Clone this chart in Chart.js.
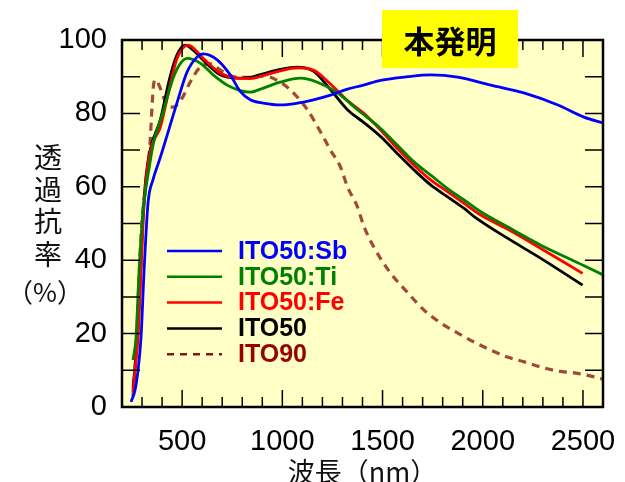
<!DOCTYPE html>
<html>
<head>
<meta charset="utf-8">
<script src="https://cdn.jsdelivr.net/npm/chart.js@4"></script>
<style>
  html, body { margin: 0; padding: 0; background: #fff; }
  #wrap { width: 625px; height: 482px; }
</style>
</head>
<body>
<div id="wrap"><canvas id="spectra" width="625" height="482"></canvas></div>
<script>
// ===================== Data ===================

const seriesLabels = ['ITO50:Sb', 'ITO50:Ti', 'ITO50:Fe', 'ITO50', 'ITO90'];

const wlSb = [245, 265, 280, 295, 310, 330, 355, 390, 425, 475, 525, 575, 605, 675, 740, 790, 840, 905, 990, 1075, 1155, 1240, 1325, 1405, 1490, 1625, 1740, 1875, 2040, 2205, 2375, 2505, 2600];
const tSb = [1.4, 4.6, 10, 19, 37, 55.6, 62, 67.8, 74, 83, 91.3, 95.4, 96.2, 94.6, 90.5, 86, 83.7, 82.8, 82.3, 82.8, 83.7, 85, 86.6, 87.7, 89, 90, 90.5, 89.9, 87.7, 85.6, 82.3, 79, 77.4];

const wlTi = [255, 270, 285, 300, 320, 335, 355, 405, 455, 490, 525, 590, 655, 725, 790, 840, 905, 990, 1090, 1175, 1275, 1375, 1490, 1573, 1657, 1740, 1823, 1907, 1990, 2123, 2290, 2498, 2600];
const tTi = [12.8, 19, 37, 50, 60, 65, 71.4, 80.4, 89.6, 93.5, 95, 93.7, 90.5, 87.7, 86.2, 85.8, 86.9, 88.5, 89.6, 88.5, 85.6, 81, 75.9, 71.4, 66.8, 63.2, 59.6, 56.4, 53.2, 49.1, 44.1, 38.7, 36];

const wlFe = [255, 265, 280, 295, 305, 320, 350, 390, 440, 475, 530, 605, 690, 775, 840, 905, 990, 1075, 1155, 1240, 1325, 1407, 1490, 1573, 1657, 1740, 1823, 1907, 1990, 2123, 2290, 2498];
const tFe = [4, 10, 19, 37, 50, 62, 71.4, 76, 87.7, 95, 98.6, 95, 91, 89.6, 89.5, 90.3, 91.6, 92.4, 91.8, 88, 83.5, 80, 75.5, 70.5, 65.9, 61.9, 58.7, 55.5, 52.3, 48.5, 43.2, 36.4];

const wl50 = [255, 265, 280, 295, 305, 320, 345, 390, 440, 475, 515, 560, 605, 690, 775, 840, 905, 990, 1075, 1155, 1240, 1325, 1407, 1490, 1573, 1657, 1740, 1823, 1907, 1957, 2123, 2290, 2498];
const t50 = [5, 11, 22, 40, 52, 63, 71, 78, 90, 96, 98.6, 97, 94.5, 90.5, 89.6, 89.8, 90.8, 92, 92.6, 91.5, 86.5, 81, 77.5, 73.7, 69.1, 64.6, 60.5, 57.3, 54.1, 51.9, 46, 40.5, 33.2];

const wl90 = [255, 270, 285, 300, 325, 340, 350, 358, 368, 390, 425, 455, 500, 540, 590, 640, 700, 780, 860, 905, 990, 1055, 1125, 1190, 1240, 1290, 1325, 1375, 1405, 1457, 1540, 1623, 1707, 1790, 1873, 1957, 2040, 2123, 2207, 2290, 2373, 2457, 2557, 2600];
const t90 = [3, 15, 35, 51, 63, 72, 82, 88, 89.2, 87, 82.3, 81.7, 84.2, 88.5, 92.6, 93.5, 91.5, 89.8, 89.8, 90.3, 88.5, 85.6, 81, 75, 70, 65.4, 60, 54.5, 49.5, 43.5, 36.5, 31.3, 26.4, 22.9, 20.2, 17.7, 15.5, 13.6, 12.3, 10.9, 9.8, 9.3, 8.2, 7.6];

const xTickStep = 100;   // nm
const xLabelStep = 500;
const yTickStep = 10;    // %
const yLabelStep = 20;

// ===================== Styles ===================

const lineColors = ['#0000ff', '#008000', '#ff0000', '#000000', '#a0483c'];
const legendTextColors = ['#0000ff', '#008000', '#ff0000', '#000000', '#990000'];
const legendLineColors = ['#0000ff', '#008000', '#ff0000', '#000000', '#7f1a1a'];

function toPoints(xs, ys) {
  return xs.map((x, i) => ({ x: x, y: ys[i] }));
}

function createDataset(label, data, color, dashed) {
  return {
    label: label,
    data: data,
    borderColor: color,
    backgroundColor: color,
    borderWidth: dashed ? 3.2 : 2.8,
    borderDash: dashed ? [8, 6] : [],
    pointRadius: 0,
    fill: false,
    cubicInterpolationMode: 'monotone'
  };
}

// ===================== Frame, ticks, legend, labels ===================

const decorations = {
  id: 'decorations',
  beforeDatasetsDraw(chart) {
    const { ctx, chartArea: a } = chart;
    ctx.save();
    ctx.fillStyle = '#ffffc6';
    ctx.fillRect(a.left, a.top, a.right - a.left, a.bottom - a.top);
    ctx.restore();
  },
  afterDatasetsDraw(chart) {
    const { ctx, chartArea: a, scales } = chart;
    const x = scales.x, y = scales.y;
    ctx.save();

    // inward ticks on all four sides
    ctx.strokeStyle = '#000';
    ctx.lineWidth = 1.5;
    ctx.beginPath();
    x.ticks.forEach(t => {
      const px = x.getPixelForValue(t.value);
      const len = t.value % xLabelStep === 0 ? 17 : 10;
      ctx.moveTo(px, a.bottom); ctx.lineTo(px, a.bottom - len);
      ctx.moveTo(px, a.top); ctx.lineTo(px, a.top + len);
    });
    y.ticks.forEach(t => {
      const py = y.getPixelForValue(t.value);
      ctx.moveTo(a.left, py); ctx.lineTo(a.left + 18, py);
      ctx.moveTo(a.right, py); ctx.lineTo(a.right - 18, py);
    });
    ctx.stroke();

    ctx.lineWidth = 2.5;
    ctx.strokeRect(a.left, a.top, a.right - a.left, a.bottom - a.top);

    // legend inside the plot
    ctx.font = 'bold 25px "Liberation Sans", Arial, sans-serif';
    ctx.textBaseline = 'middle';
    ctx.textAlign = 'left';
    chart.data.datasets.forEach((ds, i) => {
      const ly = 251 + i * 25.8;
      ctx.strokeStyle = legendLineColors[i];
      ctx.lineWidth = 2.5;
      ctx.setLineDash(ds.borderDash.length ? [7, 6] : []);
      ctx.beginPath();
      ctx.moveTo(167, ly); ctx.lineTo(222, ly);
      ctx.stroke();
      ctx.setLineDash([]);
      ctx.fillStyle = legendTextColors[i];
      ctx.fillText(ds.label, 238, ly + 1);
    });

    // vertical y-axis title
    ctx.fillStyle = '#111';
    ctx.textAlign = 'center';
    ctx.font = '28px "Noto Sans CJK JP", sans-serif';
    ['透', '過', '抗', '率'].forEach((ch, i) => {
      ctx.fillText(ch, 48, 157 + i * 32.4);
    });
    ctx.font = '26px "Noto Sans CJK JP", sans-serif';
    ctx.fillText('（%）', 45, 292);

    // badge
    ctx.fillStyle = '#ffff00';
    ctx.fillRect(382, 10, 136, 58);
    ctx.fillStyle = '#000';
    ctx.font = 'bold 31px "Noto Sans CJK JP", sans-serif';
    ctx.fillText('本発明', 450, 41);

    ctx.restore();
  }
};

// ===================== Chart ===================

const tickFont = { family: '"Liberation Sans", Arial, sans-serif', size: 29 };

const datasets = [
  createDataset(seriesLabels[0], toPoints(wlSb, tSb), lineColors[0], false),
  createDataset(seriesLabels[1], toPoints(wlTi, tTi), lineColors[1], false),
  createDataset(seriesLabels[2], toPoints(wlFe, tFe), lineColors[2], false),
  createDataset(seriesLabels[3], toPoints(wl50, t50), lineColors[3], false),
  createDataset(seriesLabels[4], toPoints(wl90, t90), lineColors[4], true)
];

new Chart(document.getElementById('spectra'), {
  type: 'line',
  data: { datasets: datasets },
  plugins: [decorations],
  options: {
    responsive: false,
    animation: false,
    layout: { padding: { top: 40, right: 22, left: 0, bottom: 0 } },
    plugins: {
      legend: { display: false },
      tooltip: { enabled: false }
    },
    scales: {
      x: {
        type: 'linear',
        min: 200,
        max: 2600,
        grid: { display: false },
        border: { display: false },
        ticks: {
          stepSize: xTickStep,
          autoSkip: false,
          maxRotation: 0,
          padding: 10,
          color: '#000',
          font: tickFont,
          callback: v => (v % xLabelStep === 0 ? String(v) : '')
        },
        title: {
          display: true,
          text: '波長（nm）',
          color: '#111',
          font: { family: '"Noto Sans CJK JP", sans-serif', size: 27, lineHeight: 1 },
          padding: { top: 0, bottom: -3 }
        },
        afterFit: scale => { scale.height = 75; }
      },
      y: {
        min: 0,
        max: 100,
        grid: { display: false },
        border: { display: false },
        ticks: {
          stepSize: yTickStep,
          autoSkip: false,
          padding: 7,
          color: '#000',
          font: tickFont,
          callback: v => (v % yLabelStep === 0 ? String(v) : '')
        },
        afterFit: scale => { scale.width = 122; }
      }
    }
  }
});
</script>
</body>
</html>
